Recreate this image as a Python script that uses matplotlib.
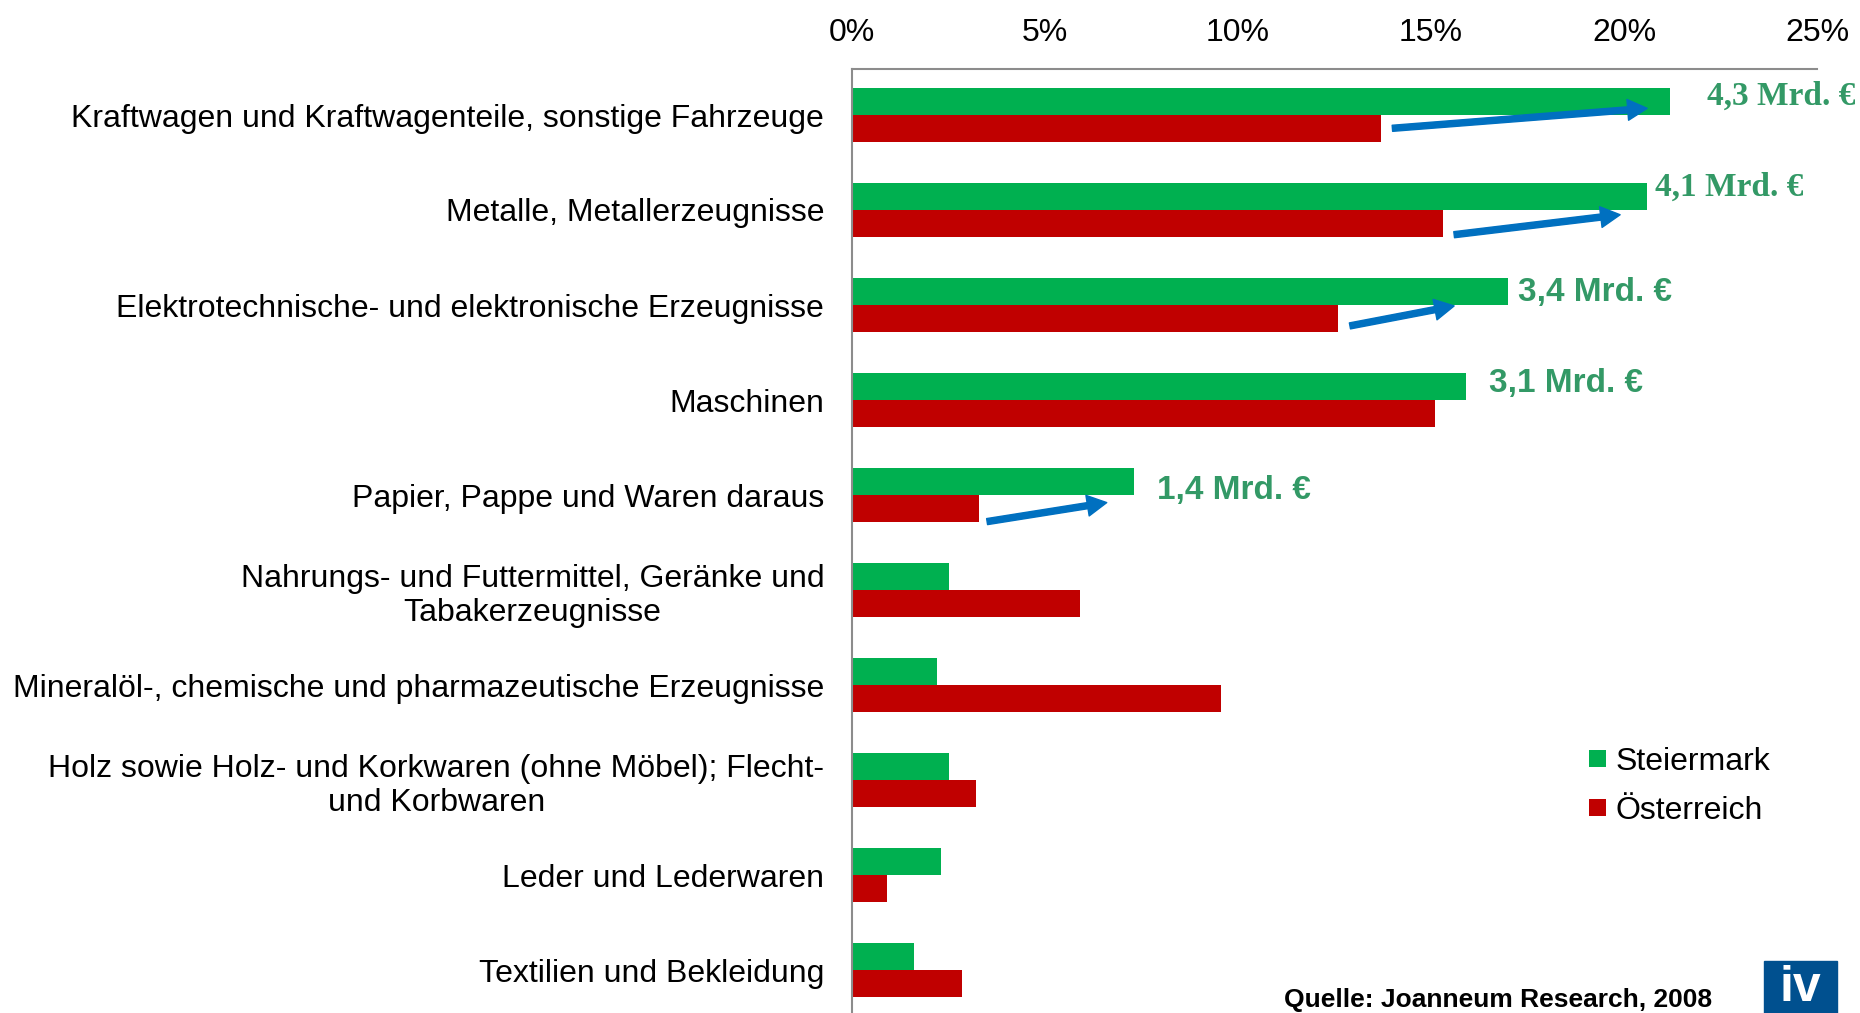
import matplotlib
matplotlib.use("Agg")
import matplotlib.pyplot as plt
from matplotlib.patches import Rectangle
import numpy as np

plt.rcParams['font.family'] = ['Liberation Sans', 'DejaVu Sans']

# Branchen (von oben nach unten)
kategorien = [
    "Kraftwagen und Kraftwagenteile, sonstige Fahrzeuge",
    "Metalle, Metallerzeugnisse",
    "Elektrotechnische- und elektronische Erzeugnisse",
    "Maschinen",
    "Papier, Pappe und Waren daraus",
    "Nahrungs- und Futtermittel, Geränke und\nTabakerzeugnisse",
    "Mineralöl-, chemische und pharmazeutische Erzeugnisse",
    "Holz sowie Holz- und Korkwaren (ohne Möbel); Flecht-\nund Korbwaren",
    "Leder und Lederwaren",
    "Textilien und Bekleidung",
]
steiermark = [21.2, 20.6, 17.0, 15.9, 7.3, 2.5, 2.2, 2.5, 2.3, 1.6]
oesterreich = [13.7, 15.3, 12.6, 15.1, 3.3, 5.9, 9.55, 3.2, 0.9, 2.85]

x_ticks = [0, 5, 10, 15, 20, 25]
x_ticklabels = ["0%", "5%", "10%", "15%", "20%", "25%"]

# Exportvolumen-Beschriftungen: (Text, x, y, Schrift)
werte_labels = [
    ("4,3 Mrd. €", 22.15, -0.2, "Liberation Serif"),
    ("4,1 Mrd. €", 20.8, 0.76, "Liberation Serif"),
    ("3,4 Mrd. €", 17.25, 1.87, "Liberation Sans"),
    ("3,1 Mrd. €", 16.5, 2.83, "Liberation Sans"),
    ("1,4 Mrd. €", 7.9, 3.95, "Liberation Sans"),
]
# Pfeile: (x0, y0, x1, y1)
pfeile = [
    (14.0, 0.14, 20.6, -0.07),
    (15.6, 1.26, 19.9, 1.05),
    (12.9, 2.22, 15.6, 2.01),
    (3.5, 4.28, 6.6, 4.08),
]

gruen = "#00B050"
rot = "#C00000"
label_gruen = "#339966"
pfeil_blau = "#0070C0"

fig = plt.figure(figsize=(18.6, 10.13), dpi=100)
ax = fig.add_axes([852 / 1860, 0, (1817 - 852) / 1860, 1 - 69 / 1013])

y = np.arange(len(kategorien))
h = 0.285
ax.barh(y - h / 2, steiermark, height=h, color=gruen, label="Steiermark")
ax.barh(y + h / 2, oesterreich, height=h, color=rot, label="Österreich")

ax.set_xlim(0, 25)
ax.set_ylim((1013 - 115) / 95, (69 - 115) / 95)

ax.xaxis.tick_top()
ax.set_xticks(x_ticks)
ax.set_xticklabels(x_ticklabels, fontsize=23)
ax.tick_params(axis='x', length=0, pad=15)
ax.set_yticks(y)
ax.set_yticklabels(kategorien, fontsize=23)
ax.tick_params(axis='y', length=0, pad=20)
for t in ax.get_yticklabels():
    t.set_multialignment('center')

for s in ['right', 'bottom']:
    ax.spines[s].set_visible(False)
for s in ['top', 'left']:
    ax.spines[s].set_color('#8c8c8c')
    ax.spines[s].set_linewidth(1.5)

for txt, tx, ty, fam in werte_labels:
    ax.text(tx, ty, txt, color=label_gruen, fontsize=24, fontweight='bold',
            family=fam, va='center', ha='left', clip_on=False)

for x0, y0, x1, y1 in pfeile:
    ax.annotate("", xy=(x1, y1), xytext=(x0, y0),
                arrowprops=dict(arrowstyle="simple,tail_width=0.22,head_width=0.75,head_length=0.7",
                                color=pfeil_blau, mutation_scale=20, shrinkA=0, shrinkB=0))

ax.legend(loc='upper left', bbox_to_anchor=(1560 / 1860, 1 - 718 / 1013),
          bbox_transform=fig.transFigure, frameon=False, fontsize=23,
          handlelength=0.55, handleheight=0.45, handletextpad=0.3, labelspacing=0.6)

fig.text(1712 / 1860, 1 - 1000 / 1013, "Quelle: Joanneum Research, 2008",
         fontsize=19, fontweight='bold', ha='right', va='center')

# IV-Logo
fig.patches.append(Rectangle((1764 / 1860, 0), 73 / 1860, 52 / 1013,
                             transform=fig.transFigure, color="#00508F"))
fig.text(1800 / 1860, 0.002, "iv", color='white', fontsize=36, fontweight='bold',
         ha='center', va='bottom')

fig.savefig("out.png", dpi=100)
